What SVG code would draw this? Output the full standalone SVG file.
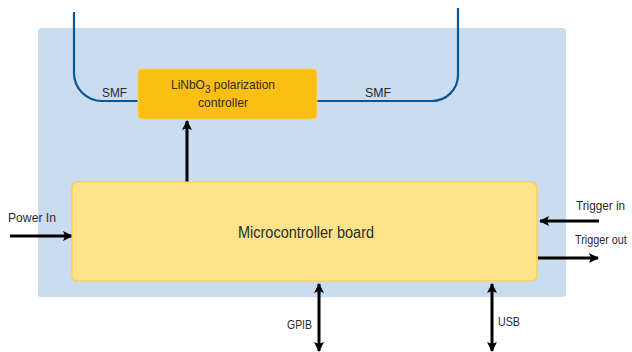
<svg xmlns="http://www.w3.org/2000/svg" width="632" height="352" viewBox="0 0 632 352">
<defs>
<marker id="ah" markerWidth="10" markerHeight="10" refX="9" refY="5" orient="auto-start-reverse" markerUnits="userSpaceOnUse">
<path d="M0,0 L10,5 L0,10 L2,5 Z" fill="#000"/>
</marker>
<style>
text{font-family:"Liberation Sans",Arial,sans-serif;fill:#2b2a2a}
.lbl{font-size:13px}
.fib{fill:none;stroke:#0a5594;stroke-width:2.2}
.arr{stroke:#000;stroke-width:3;fill:none}
</style>
</defs>
<rect x="38" y="28" width="528" height="269" rx="3" fill="#cadcf0"/>
<g id="connectors">
<path class="fib" d="M74,12 V73 A28,28 0 0 0 102,101 H138"/>
<path class="fib" d="M317,101 H432 A26,26 0 0 0 458,75 V8"/>
<path class="arr" d="M187,182 V121" marker-end="url(#ah)"/>
<path class="arr" d="M10,236 H72" marker-end="url(#ah)"/>
<path class="arr" d="M599,221 H540" marker-end="url(#ah)"/>
<path class="arr" d="M538,258 H598" marker-end="url(#ah)"/>
<path class="arr" d="M319,284 V351" marker-start="url(#ah)" marker-end="url(#ah)"/>
<path class="arr" d="M492,284 V351" marker-start="url(#ah)" marker-end="url(#ah)"/>
<text class="lbl" x="102" y="97" textLength="25" lengthAdjust="spacingAndGlyphs">SMF</text>
<text class="lbl" x="365" y="97" textLength="26" lengthAdjust="spacingAndGlyphs">SMF</text>
<text class="lbl" x="8" y="222" textLength="48" lengthAdjust="spacingAndGlyphs">Power In</text>
<text class="lbl" x="576" y="210" textLength="49" lengthAdjust="spacingAndGlyphs">Trigger in</text>
<text class="lbl" transform="translate(575,244) scale(0.83,1)">Trigger out</text>
<text class="lbl" x="287" y="329" textLength="25" lengthAdjust="spacingAndGlyphs">GPIB</text>
<text class="lbl" x="498" y="326" textLength="22" lengthAdjust="spacingAndGlyphs">USB</text>
</g>
<g id="polarization-controller">
<rect x="138" y="69" width="179" height="50" rx="4" fill="#fbbf14" stroke="#fdd052" stroke-width="1"/>
<text class="lbl" transform="translate(171,89) scale(0.92,1)">LiNbO<tspan dy="3.5" font-size="11">3</tspan><tspan dy="-3.5"> polarization</tspan></text>
<text class="lbl" x="198" y="107" textLength="50" lengthAdjust="spacingAndGlyphs">controller</text>
</g>
<g id="microcontroller-board">
<rect x="72" y="182" width="465" height="99" rx="6" fill="#fee38b" stroke="#f9cf40" stroke-width="1.2"/>
<text x="238" y="238" font-size="16" textLength="136" lengthAdjust="spacingAndGlyphs">Microcontroller board</text>
</g>
</svg>
